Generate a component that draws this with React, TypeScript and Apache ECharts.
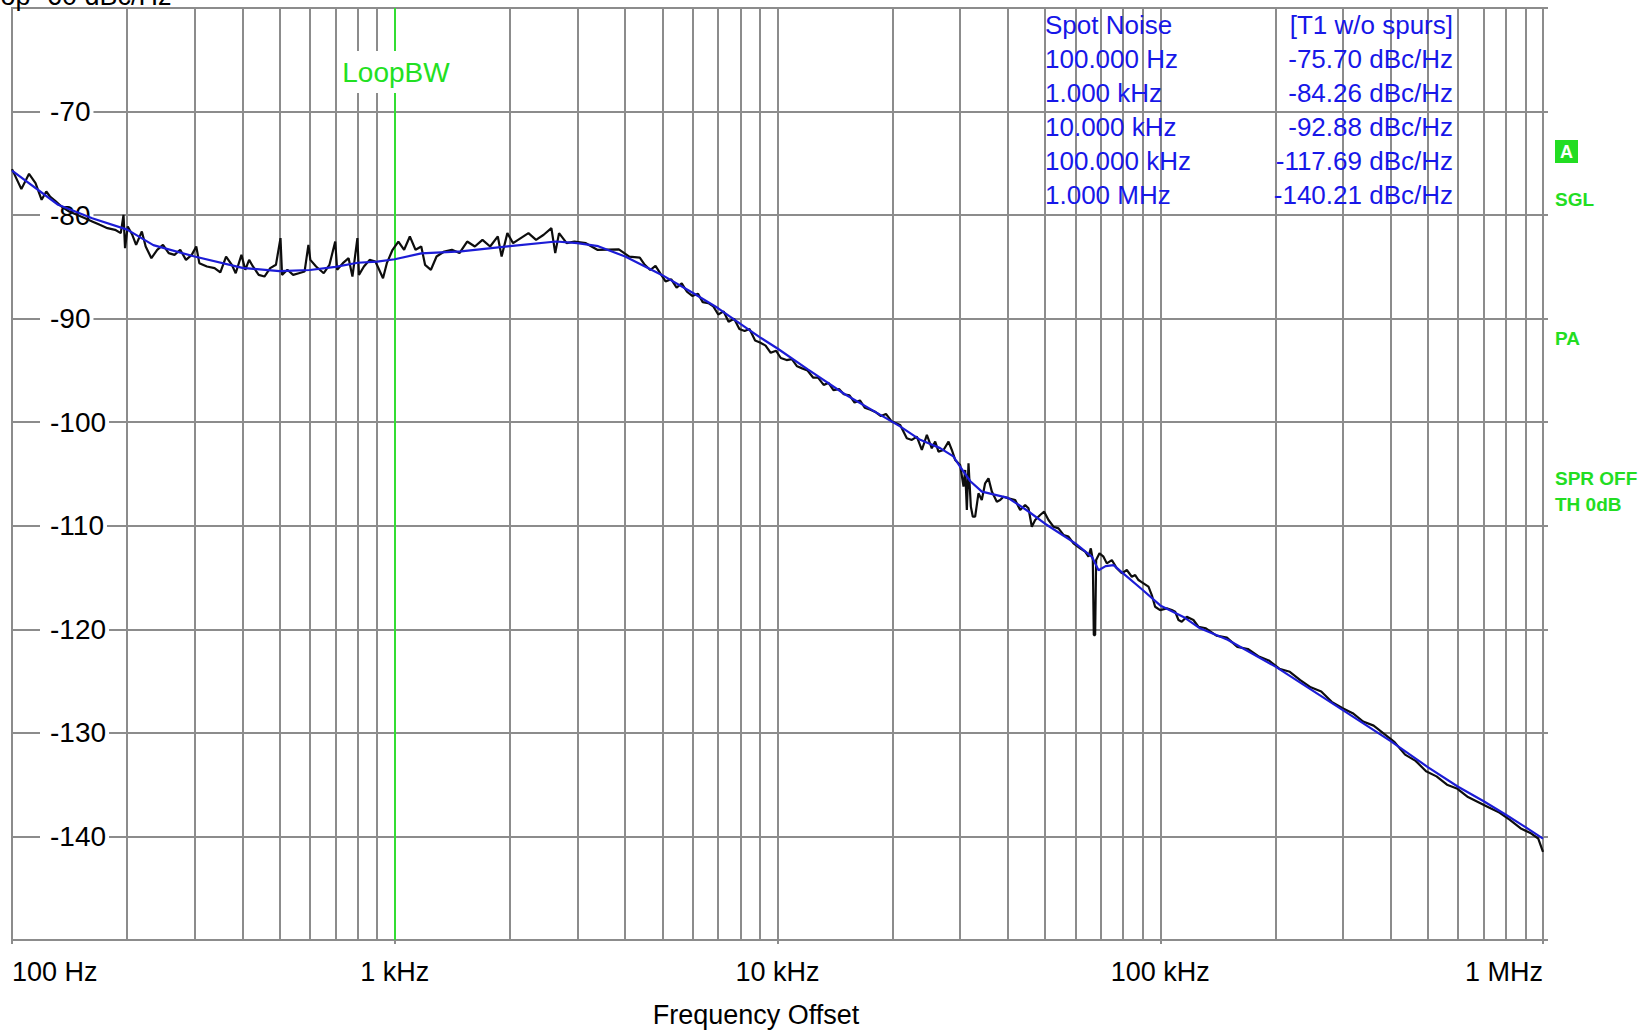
import React, { useEffect, useRef } from 'react';
import * as echarts from 'echarts';

// ---------- axis ticks ----------
const xTickValues = [100, 1000, 10000, 100000, 1000000];
const xTickLabels = ['100 Hz', '1 kHz', '10 kHz', '100 kHz', '1 MHz'];
const minorMultipliers = [2, 3, 4, 5, 6, 7, 8, 9];
const minorDecades = [100, 1000, 10000, 100000];
const yMin = -150;
const yMax = -60;
const yStep = 10;
const loopBwFreq = 1000;

// ---------- marker table ----------
const spotHeader = ['Spot Noise', '[T1 w/o spurs]'];
const spotFreqLabels = ['100.000 Hz', '1.000 kHz', '10.000 kHz', '100.000 kHz', '1.000 MHz'];
const spotValueLabels = ['-75.70 dBc/Hz', '-84.26 dBc/Hz', '-92.88 dBc/Hz', '-117.69 dBc/Hz', '-140.21 dBc/Hz'];
const sideLabels = ['SGL', 'PA', 'SPR OFF', 'TH 0dB'];

// ---------- measured trace (black), [Hz, dBc/Hz] ----------
const measuredLow: [number, number][] = [
  [100, -75.56], [105.8, -77.49], [110.8, -76.01], [115.2, -76.91], [119.5, -78.52], [122.9, -77.72],
  [125.7, -78.2], [130.1, -78.68], [134.7, -79.17], [141.1, -79.65], [147.7, -79.97], [154.7, -80.29],
  [162, -80.61], [169.6, -80.94], [177.6, -81.26], [185.9, -81.42], [192.4, -81.74], [195.6, -79.97],
  [197.4, -83.19], [200.6, -81.1], [206.2, -81.9], [211, -82.87], [218.4, -81.58], [223.5, -83.03],
  [231.3, -84.16], [239.5, -83.35], [248, -82.87], [256.7, -83.67], [265.8, -83.84], [275.1, -83.35],
  [284.8, -84.32], [294.8, -83.84], [303, -83.03], [308.6, -84.64], [323.1, -84.96], [338.3, -85.12],
  [350.2, -85.54], [362.5, -84.0], [375.3, -84.8], [384.1, -85.61], [397.6, -83.84], [406.9, -85.28],
  [416.4, -84.32], [426.1, -84.96], [441.1, -85.77], [456.6, -85.93], [472.7, -85.12], [489.3, -84.8],
  [502.9, -82.22], [507.6, -85.77], [524.2, -85.28], [542.6, -85.77], [561.6, -85.61], [581.3, -85.45],
  [594.9, -82.87], [601.8, -84.32], [623, -84.96], [652.3, -85.61], [675.2, -84.8], [699, -82.55],
  [707.1, -85.28], [731.9, -84.64], [757.6, -84.16], [775.3, -85.93], [798.8, -82.22], [806.2, -85.77],
  [830.7, -84.96], [859.9, -84.32], [890.1, -84.48], [931.8, -86.09], [953.5, -84.64], [987, -83.35],
  [1022, -82.55], [1058, -83.35], [1095, -82.06], [1133, -83.35], [1173, -83.03], [1200, -84.8],
  [1243, -85.28], [1286, -84.0], [1347, -83.51], [1410, -83.35], [1476, -83.67], [1546, -82.55],
  [1619, -83.03], [1695, -82.39], [1775, -83.03], [1859, -82.06], [1902, -84.0], [1969, -81.74],
  [2038, -82.71], [2134, -82.22], [2235, -81.74], [2340, -82.39], [2450, -81.9], [2566, -81.26],
  [2626, -83.67], [2687, -81.74], [2813, -82.71], [2946, -82.55], [3157, -82.71], [3382, -83.35],
];
const measuredMid: [number, number][] = [
  [3850, -83.3], [4100, -84.0], [4367, -84.1], [4500, -84.8], [4651, -85.3], [4800, -84.9],
  [4955, -85.7], [5100, -86.4], [5278, -86.2], [5450, -87.0], [5621, -86.6], [5800, -87.4],
  [5988, -87.8], [6200, -87.6], [6377, -88.4], [6600, -88.5], [6792, -88.8], [7000, -89.6],
  [7234, -89.3], [7450, -90.3], [7704, -90.0], [7950, -91.0], [8206, -91.2], [8450, -91.0],
  [8740, -92.1], [9000, -92.3], [9309, -92.6], [9600, -93.3], [9915, -93.1], [10200, -93.8],
  [10560, -94.0], [10900, -93.9], [11250, -94.6], [11600, -94.8], [11980, -95.0], [12400, -95.7],
  [12760, -95.7], [13200, -96.4], [13590, -96.2], [14000, -96.9], [14480, -96.8], [14900, -97.3],
  [15420, -97.4], [15900, -98.1], [16420, -97.9], [16900, -98.6], [17490, -98.8], [18000, -99.0],
  [18630, -99.4], [19200, -99.2], [19850, -99.9],
];
const measuredHigh: [number, number][] = [
  [20920, -100.26], [21770, -101.55], [22440, -101.71], [23120, -101.39], [23830, -102.68], [24560, -101.23],
  [25300, -102.52], [25820, -101.87], [26340, -102.84], [27150, -102.68], [27980, -101.87], [28540, -102.68],
  [29120, -103.64], [30010, -104.13], [30620, -106.22], [30930, -104.61], [31240, -108.48], [31550, -103.97],
  [32000, -108.15], [32380, -109.12], [32840, -109.12], [33500, -106.87], [34180, -107.51], [34870, -105.9],
  [35580, -105.42], [36310, -106.7], [37410, -107.67], [38170, -107.51], [38950, -107.19], [40140, -107.35],
  [41780, -107.51], [43050, -108.48], [44360, -107.99], [45260, -108.31], [46180, -110.09], [47120, -109.44],
  [48550, -108.96], [49740, -108.64], [51050, -109.44], [52610, -110.09], [54220, -110.25], [55870, -110.89],
  [57580, -111.05], [59340, -111.7], [61760, -112.18], [63650, -112.5], [64940, -112.98], [65860, -112.18],
  [66650, -113.31], [67050, -120.55], [67590, -120.55], [68000, -113.31], [69380, -112.66], [71070, -112.98],
  [72510, -113.63], [74730, -113.31], [77000, -114.11], [79360, -114.59], [81780, -114.27], [84280, -114.92],
  [86000, -114.76], [87730, -115.24], [90410, -115.56], [93160, -115.88], [95040, -116.69], [96960, -117.82],
  [99930, -118.14], [104000, -117.98], [107200, -118.14], [109400, -118.3], [111600, -119.1], [113800, -119.26],
  [117300, -118.78], [122100, -119.1], [125800, -119.75],
];
const measuredTop: [number, number][] = [
  [131600, -119.9], [140200, -120.6], [149300, -120.8], [159000, -121.7], [169400, -121.9], [180400, -122.6],
  [192100, -123.0], [204700, -123.8], [218000, -124.1], [232200, -124.9], [247300, -125.6], [263400, -126.0],
  [280500, -127.0], [298800, -127.6], [318300, -128.1], [338900, -128.9], [361000, -129.3], [384500, -130.1],
  [409500, -130.9], [436200, -132.1], [464600, -132.7], [494800, -133.7], [527000, -134.2], [561300, -135.0],
  [597800, -135.4], [636800, -136.2], [678100, -136.7], [722300, -137.2], [769300, -137.7], [819400, -138.4],
  [873000, -139.2], [930000, -139.7], [971900, -140.2], [1000000, -141.5],
];

// ---------- smoothed trace (blue), [Hz, dBc/Hz] ----------
const smoothedTrace: [number, number][] = [
  [100, -75.7], [132, -79.0], [162, -80.3], [200, -81.4], [234, -82.9], [300, -84.0], [400, -85.1],
  [500, -85.4], [600, -85.3], [700, -85.0], [800, -84.6], [900, -84.5], [1000, -84.26], [1173, -83.7],
  [1490, -83.5], [2000, -83.0], [2640, -82.55], [3000, -82.7], [3400, -83.0], [4000, -84.0],
  [5000, -85.8], [6000, -87.5], [7000, -89.0], [8000, -90.5], [9000, -91.8], [10000, -92.88],
  [12000, -94.9], [15000, -97.3], [18000, -99.0], [20900, -100.4], [23600, -101.7], [26600, -102.5],
  [28800, -103.3], [30000, -104.3], [31900, -105.7], [34200, -106.7], [40000, -107.3], [44800, -108.5],
  [50000, -109.8], [60000, -111.7], [66300, -113.0], [69000, -114.3], [72000, -113.9], [75500, -113.8],
  [80000, -114.6], [90000, -116.2], [100000, -117.69], [115000, -118.8], [127000, -119.9],
  [150000, -121.0], [200000, -123.6], [300000, -127.8], [400000, -130.8], [500000, -133.3],
  [600000, -135.2], [700000, -136.6], [800000, -137.9], [900000, -139.1], [1000000, -140.21],
];

const FONT = '"Liberation Sans", Arial, Helvetica, sans-serif';
const GRID_GRAY = '#8c8c8c';
const GREEN = '#22dd22';
const TABLE_BLUE = '#1717e8';

export default function App() {
  const ref = useRef<HTMLDivElement>(null);

  useEffect(() => {
    if (!ref.current) return;
    const chart = echarts.init(ref.current, undefined, { renderer: 'svg' });

    const minorFreqs: number[] = [];
    minorDecades.forEach((d) => minorMultipliers.forEach((m) => minorFreqs.push(m * d)));

    const measured = [...measuredLow, ...measuredMid, ...measuredHigh, ...measuredTop];

    const tableRows = [spotHeader, ...spotFreqLabels.map((f, i) => [f, spotValueLabels[i]])];
    const tableGraphics: any[] = [];
    tableRows.forEach((row, i) => {
      const y = 25 + i * 34;
      tableGraphics.push({
        type: 'text', x: 1045, y, z: 10,
        style: { text: row[0], fill: TABLE_BLUE, font: `26px ${FONT}`, align: 'left', verticalAlign: 'middle', textAlign: 'left', textVerticalAlign: 'middle' },
      });
      tableGraphics.push({
        type: 'text', x: 1453, y, z: 10,
        style: { text: row[1], fill: TABLE_BLUE, font: `26px ${FONT}`, align: 'right', verticalAlign: 'middle', textAlign: 'right', textVerticalAlign: 'middle' },
      });
    });

    const sideY = [199, 338, 478, 504];
    const sideGraphics = sideLabels.map((t, i) => ({
      type: 'text', x: 1555, y: sideY[i], z: 10,
      style: { text: t, fill: GREEN, font: `bold 19px ${FONT}`, align: 'left', verticalAlign: 'middle', textAlign: 'left', textVerticalAlign: 'middle' },
    }));

    const option: any = {
      animation: false,
      backgroundColor: '#ffffff',
      grid: {
        left: 12, right: 101, top: 8, bottom: 91,
        show: true, borderColor: GRID_GRAY, borderWidth: 2, backgroundColor: 'transparent',
      },
      xAxis: {
        type: 'log', logBase: 10, min: 100, max: 1000000,
        axisLine: { show: true, lineStyle: { color: GRID_GRAY, width: 2 } },
        axisTick: { show: true, length: 4, lineStyle: { color: GRID_GRAY, width: 2 } },
        axisLabel: {
          color: '#000', fontSize: 27, fontFamily: FONT, margin: 18,
          alignMinLabel: 'left', alignMaxLabel: 'right',
          formatter: (v: number) => {
            const idx = xTickValues.findIndex((t) => Math.abs(Math.log10(t) - Math.log10(v)) < 1e-6);
            return idx >= 0 ? xTickLabels[idx] : '';
          },
        },
        splitLine: { show: true, lineStyle: { color: GRID_GRAY, width: 2 } },
      },
      yAxis: [
        {
          type: 'value', min: yMin, max: yMax, interval: yStep,
          axisLine: { show: false }, axisTick: { show: false },
          axisLabel: {
            inside: true, margin: 28, showMinLabel: false, showMaxLabel: false,
            color: '#000', fontSize: 28, fontFamily: FONT,
            backgroundColor: '#ffffff', padding: [4, 3, 4, 10],
          },
          splitLine: { show: true, lineStyle: { color: GRID_GRAY, width: 2 } },
        },
        {
          type: 'value', min: yMin, max: yMax, interval: yStep, position: 'right',
          axisLine: { show: false },
          axisTick: { show: true, length: 5, lineStyle: { color: GRID_GRAY, width: 2 } },
          axisLabel: { show: false }, splitLine: { show: false },
        },
      ],
      series: [
        {
          name: 'Measured', type: 'line', data: measured, showSymbol: false, symbol: 'none',
          z: 3, silent: true,
          lineStyle: { color: '#0d0d0d', width: 2.2 },
          markLine: {
            silent: true, symbol: ['none', 'none'], z: 1, animation: false,
            label: { show: false }, emphasis: { disabled: true },
            lineStyle: { color: GRID_GRAY, width: 2, type: 'solid' },
            data: minorFreqs.map((f) => ({ xAxis: f })),
          },
        },
        {
          name: 'Smoothed', type: 'line', data: smoothedTrace, showSymbol: false, symbol: 'none',
          z: 4, silent: true,
          lineStyle: { color: '#1c1cd6', width: 2.2 },
          markLine: {
            silent: true, symbol: ['none', 'none'], z: 2, animation: false,
            label: { show: false }, emphasis: { disabled: true },
            lineStyle: { color: '#33dd33', width: 2, type: 'solid' },
            data: [{ xAxis: loopBwFreq }],
          },
        },
      ],
      graphic: [
        {
          type: 'text', x: -13, y: 9, z: 10,
          style: { text: 'Top -60 dBc/Hz', fill: '#000', font: `27px ${FONT}`, align: 'left', verticalAlign: 'bottom', textAlign: 'left', textVerticalAlign: 'bottom' },
        },
        {
          type: 'text', x: 396, y: 72, z: 10,
          style: {
            text: 'LoopBW', fill: '#22e022', font: `28px ${FONT}`,
            align: 'center', verticalAlign: 'middle', textAlign: 'center', textVerticalAlign: 'middle',
            backgroundColor: '#ffffff', padding: [7, 3, 7, 3],
          },
        },
        ...tableGraphics,
        { type: 'rect', x: 1555, y: 140, z: 10, shape: { width: 23, height: 23 }, style: { fill: GREEN } },
        {
          type: 'text', x: 1566.5, y: 152, z: 11,
          style: { text: 'A', fill: '#ffffff', font: `bold 18px ${FONT}`, align: 'center', verticalAlign: 'middle', textAlign: 'center', textVerticalAlign: 'middle' },
        },
        ...sideGraphics,
        {
          type: 'text', x: 756, y: 1015, z: 10,
          style: { text: 'Frequency Offset', fill: '#000', font: `27px ${FONT}`, align: 'center', verticalAlign: 'middle', textAlign: 'center', textVerticalAlign: 'middle' },
        },
      ],
    };

    chart.setOption(option);
    return () => chart.dispose();
  }, []);

  return (
    <div
      ref={ref}
      style={{ position: 'fixed', left: 0, top: 0, width: 1644, height: 1031, background: '#fff' }}
    />
  );
}
